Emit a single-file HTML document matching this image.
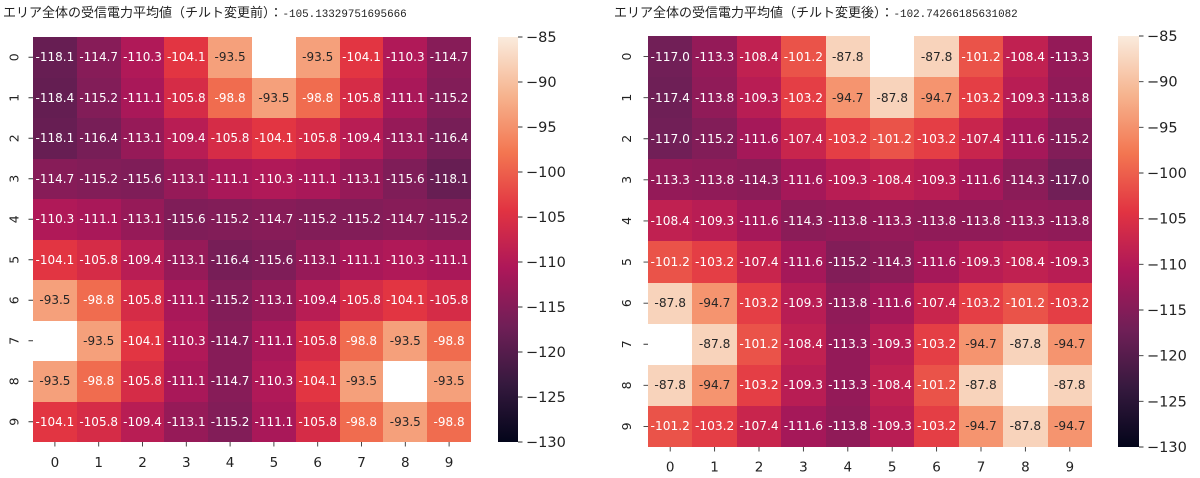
<!DOCTYPE html>
<html><head><meta charset="utf-8"><style>
html,body{margin:0;padding:0;background:#fff;}
body{width:1200px;height:478px;position:relative;overflow:hidden;}
.g{position:absolute;display:grid;grid-template-columns:repeat(10,1fr);grid-template-rows:repeat(10,1fr);font-family:"DejaVu Sans","Liberation Sans",sans-serif;}
.g i{font-style:normal;display:flex;align-items:center;justify-content:center;color:#fff;white-space:nowrap;}
#L{left:33px;top:37px;width:438px;height:405px;font-size:12px;}
#R{left:648px;top:36px;width:444px;height:411px;font-size:12.2px;}
.a{background:#641e52}.b{background:#671e53}.c{background:#771e57}.d{background:#7f1d58}.e{background:#821d58}.f{background:#871c58}.g .g{}
.gg{background:#961a58}.h{background:#a91859}.i2{background:#b01958}.j{background:#b81d54}.k{background:#d52c47}.l{background:#e23542}.m{background:#f06c4f}.n{background:#f5a07b;color:#262626!important}
.z{background:#fff}
.A{background:#6e1f56}.B{background:#711f57}.C{background:#821d58}.D{background:#8b1c58}.E{background:#901b58}.F{background:#941a58}.G{background:#a51859}.H{background:#b81d54}.I{background:#c02151}.J{background:#c8254d}.K{background:#e43e45}.Lr{background:#ea5349}.M{background:#f5946f;color:#262626!important}.N{background:#f8d3bb;color:#262626!important}
.cb{position:absolute;background:linear-gradient(to top,#03051a 0%,#35193e 14.29%,#701f57 28.57%,#ad1759 42.86%,#e13342 57.14%,#f37651 71.43%,#f6b48f 85.71%,#faebdd 100%);}
svg{position:absolute;left:0;top:0;}
</style></head><body>

<div class="g" id="L">
<i class="b">-118.1</i><i class="f">-114.7</i><i class="i2">-110.3</i><i class="l">-104.1</i><i class="n">-93.5</i><i class="z"></i><i class="n">-93.5</i><i class="l">-104.1</i><i class="i2">-110.3</i><i class="f">-114.7</i>
<i class="a">-118.4</i><i class="e">-115.2</i><i class="h">-111.1</i><i class="k">-105.8</i><i class="m">-98.8</i><i class="n">-93.5</i><i class="m">-98.8</i><i class="k">-105.8</i><i class="h">-111.1</i><i class="e">-115.2</i>
<i class="b">-118.1</i><i class="c">-116.4</i><i class="gg">-113.1</i><i class="j">-109.4</i><i class="k">-105.8</i><i class="l">-104.1</i><i class="k">-105.8</i><i class="j">-109.4</i><i class="gg">-113.1</i><i class="c">-116.4</i>
<i class="f">-114.7</i><i class="e">-115.2</i><i class="d">-115.6</i><i class="gg">-113.1</i><i class="h">-111.1</i><i class="i2">-110.3</i><i class="h">-111.1</i><i class="gg">-113.1</i><i class="d">-115.6</i><i class="b">-118.1</i>
<i class="i2">-110.3</i><i class="h">-111.1</i><i class="gg">-113.1</i><i class="d">-115.6</i><i class="e">-115.2</i><i class="f">-114.7</i><i class="e">-115.2</i><i class="e">-115.2</i><i class="f">-114.7</i><i class="e">-115.2</i>
<i class="l">-104.1</i><i class="k">-105.8</i><i class="j">-109.4</i><i class="gg">-113.1</i><i class="c">-116.4</i><i class="d">-115.6</i><i class="gg">-113.1</i><i class="h">-111.1</i><i class="i2">-110.3</i><i class="h">-111.1</i>
<i class="n">-93.5</i><i class="m">-98.8</i><i class="k">-105.8</i><i class="h">-111.1</i><i class="e">-115.2</i><i class="gg">-113.1</i><i class="j">-109.4</i><i class="k">-105.8</i><i class="l">-104.1</i><i class="k">-105.8</i>
<i class="z"></i><i class="n">-93.5</i><i class="l">-104.1</i><i class="i2">-110.3</i><i class="f">-114.7</i><i class="h">-111.1</i><i class="k">-105.8</i><i class="m">-98.8</i><i class="n">-93.5</i><i class="m">-98.8</i>
<i class="n">-93.5</i><i class="m">-98.8</i><i class="k">-105.8</i><i class="h">-111.1</i><i class="f">-114.7</i><i class="i2">-110.3</i><i class="l">-104.1</i><i class="n">-93.5</i><i class="z"></i><i class="n">-93.5</i>
<i class="l">-104.1</i><i class="k">-105.8</i><i class="j">-109.4</i><i class="gg">-113.1</i><i class="e">-115.2</i><i class="h">-111.1</i><i class="k">-105.8</i><i class="m">-98.8</i><i class="n">-93.5</i><i class="m">-98.8</i>
</div>

<div class="g" id="R">
<i class="B">-117.0</i><i class="F">-113.3</i><i class="I">-108.4</i><i class="Lr">-101.2</i><i class="N">-87.8</i><i class="z"></i><i class="N">-87.8</i><i class="Lr">-101.2</i><i class="I">-108.4</i><i class="F">-113.3</i>
<i class="A">-117.4</i><i class="E">-113.8</i><i class="H">-109.3</i><i class="K">-103.2</i><i class="M">-94.7</i><i class="N">-87.8</i><i class="M">-94.7</i><i class="K">-103.2</i><i class="H">-109.3</i><i class="E">-113.8</i>
<i class="B">-117.0</i><i class="C">-115.2</i><i class="G">-111.6</i><i class="J">-107.4</i><i class="K">-103.2</i><i class="Lr">-101.2</i><i class="K">-103.2</i><i class="J">-107.4</i><i class="G">-111.6</i><i class="C">-115.2</i>
<i class="F">-113.3</i><i class="E">-113.8</i><i class="D">-114.3</i><i class="G">-111.6</i><i class="H">-109.3</i><i class="I">-108.4</i><i class="H">-109.3</i><i class="G">-111.6</i><i class="D">-114.3</i><i class="B">-117.0</i>
<i class="I">-108.4</i><i class="H">-109.3</i><i class="G">-111.6</i><i class="D">-114.3</i><i class="E">-113.8</i><i class="F">-113.3</i><i class="E">-113.8</i><i class="E">-113.8</i><i class="F">-113.3</i><i class="E">-113.8</i>
<i class="Lr">-101.2</i><i class="K">-103.2</i><i class="J">-107.4</i><i class="G">-111.6</i><i class="C">-115.2</i><i class="D">-114.3</i><i class="G">-111.6</i><i class="H">-109.3</i><i class="I">-108.4</i><i class="H">-109.3</i>
<i class="N">-87.8</i><i class="M">-94.7</i><i class="K">-103.2</i><i class="H">-109.3</i><i class="E">-113.8</i><i class="G">-111.6</i><i class="J">-107.4</i><i class="K">-103.2</i><i class="Lr">-101.2</i><i class="K">-103.2</i>
<i class="z"></i><i class="N">-87.8</i><i class="Lr">-101.2</i><i class="I">-108.4</i><i class="F">-113.3</i><i class="H">-109.3</i><i class="K">-103.2</i><i class="M">-94.7</i><i class="N">-87.8</i><i class="M">-94.7</i>
<i class="N">-87.8</i><i class="M">-94.7</i><i class="K">-103.2</i><i class="H">-109.3</i><i class="F">-113.3</i><i class="I">-108.4</i><i class="Lr">-101.2</i><i class="N">-87.8</i><i class="z"></i><i class="N">-87.8</i>
<i class="Lr">-101.2</i><i class="K">-103.2</i><i class="J">-107.4</i><i class="G">-111.6</i><i class="E">-113.8</i><i class="H">-109.3</i><i class="K">-103.2</i><i class="M">-94.7</i><i class="N">-87.8</i><i class="M">-94.7</i>
</div>

<div class="cb" style="left:498px;top:37px;width:20px;height:405px;"></div>
<div class="cb" style="left:1118px;top:36px;width:21px;height:411px;"></div>

<svg width="1200" height="478" viewBox="0 0 1200 478">
<!-- titles -->
<text x="3" y="17" font-size="13" fill="#222"><tspan font-family="'Noto Sans CJK JP','Liberation Sans',sans-serif">エリア全体の受信電力平均値（チルト変更前）：</tspan><tspan font-family="'Liberation Mono',monospace" font-size="10.9">-105.13329751695666</tspan></text>
<text x="614" y="17" font-size="13" fill="#222"><tspan font-family="'Noto Sans CJK JP','Liberation Sans',sans-serif">エリア全体の受信電力平均値（チルト変更後）：</tspan><tspan font-family="'Liberation Mono',monospace" font-size="10.9">-102.74266185631082</tspan></text>

<g stroke="#333" stroke-width="0.9">
<!-- left y ticks -->
<path d="M28.5 57.25H33M28.5 97.75H33M28.5 138.25H33M28.5 178.75H33M28.5 219.25H33M28.5 259.75H33M28.5 300.25H33M28.5 340.75H33M28.5 381.25H33M28.5 421.75H33"/>
<!-- left x ticks -->
<path d="M54.9 442V446.5M98.7 442V446.5M142.5 442V446.5M186.3 442V446.5M230.1 442V446.5M273.9 442V446.5M317.7 442V446.5M361.5 442V446.5M405.3 442V446.5M449.1 442V446.5"/>
<!-- right y ticks -->
<path d="M643.5 56.55H648M643.5 97.65H648M643.5 138.75H648M643.5 179.85H648M643.5 220.95H648M643.5 262.05H648M643.5 303.15H648M643.5 344.25H648M643.5 385.35H648M643.5 426.45H648"/>
<!-- right x ticks -->
<path d="M670.2 447V451.5M714.6 447V451.5M759 447V451.5M803.4 447V451.5M847.8 447V451.5M892.2 447V451.5M936.6 447V451.5M981 447V451.5M1025.4 447V451.5M1069.8 447V451.5"/>
<!-- left colorbar ticks -->
<path d="M518 37H522.5M518 82H522.5M518 127H522.5M518 172H522.5M518 217H522.5M518 262H522.5M518 307H522.5M518 352H522.5M518 397H522.5M518 442H522.5"/>
<!-- right colorbar ticks -->
<path d="M1139 36H1143.5M1139 81.67H1143.5M1139 127.33H1143.5M1139 173H1143.5M1139 218.67H1143.5M1139 264.33H1143.5M1139 310H1143.5M1139 355.67H1143.5M1139 401.33H1143.5M1139 447H1143.5"/>
</g>

<g font-family="'DejaVu Sans','Liberation Sans',sans-serif" font-size="12.5" fill="#222" text-anchor="middle">
<text transform="translate(18.5,57.25) rotate(-90)">0</text>
<text transform="translate(18.5,97.75) rotate(-90)">1</text>
<text transform="translate(18.5,138.25) rotate(-90)">2</text>
<text transform="translate(18.5,178.75) rotate(-90)">3</text>
<text transform="translate(18.5,219.25) rotate(-90)">4</text>
<text transform="translate(18.5,259.75) rotate(-90)">5</text>
<text transform="translate(18.5,300.25) rotate(-90)">6</text>
<text transform="translate(18.5,340.75) rotate(-90)">7</text>
<text transform="translate(18.5,381.25) rotate(-90)">8</text>
<text transform="translate(18.5,421.75) rotate(-90)">9</text>

<text transform="translate(631,56.55) rotate(-90)">0</text>
<text transform="translate(631,97.65) rotate(-90)">1</text>
<text transform="translate(631,138.75) rotate(-90)">2</text>
<text transform="translate(631,179.85) rotate(-90)">3</text>
<text transform="translate(631,220.95) rotate(-90)">4</text>
<text transform="translate(631,262.05) rotate(-90)">5</text>
<text transform="translate(631,303.15) rotate(-90)">6</text>
<text transform="translate(631,344.25) rotate(-90)">7</text>
<text transform="translate(631,385.35) rotate(-90)">8</text>
<text transform="translate(631,426.45) rotate(-90)">9</text>
</g>

<g font-family="'DejaVu Sans','Liberation Sans',sans-serif" font-size="13.5" fill="#222" text-anchor="middle">
<text x="54.9" y="467">0</text><text x="98.7" y="467">1</text><text x="142.5" y="467">2</text><text x="186.3" y="467">3</text><text x="230.1" y="467">4</text><text x="273.9" y="467">5</text><text x="317.7" y="467">6</text><text x="361.5" y="467">7</text><text x="405.3" y="467">8</text><text x="449.1" y="467">9</text>
<text x="670.2" y="471.5">0</text><text x="714.6" y="471.5">1</text><text x="759" y="471.5">2</text><text x="803.4" y="471.5">3</text><text x="847.8" y="471.5">4</text><text x="892.2" y="471.5">5</text><text x="936.6" y="471.5">6</text><text x="981" y="471.5">7</text><text x="1025.4" y="471.5">8</text><text x="1069.8" y="471.5">9</text>
</g>

<g font-family="'DejaVu Sans','Liberation Sans',sans-serif" font-size="14.5" fill="#222">
<text x="526" y="42">−85</text>
<text x="526" y="87">−90</text>
<text x="526" y="132">−95</text>
<text x="526" y="177">−100</text>
<text x="526" y="222">−105</text>
<text x="526" y="267">−110</text>
<text x="526" y="312">−115</text>
<text x="526" y="357">−120</text>
<text x="526" y="402">−125</text>
<text x="526" y="447">−130</text>

<text x="1147" y="41">−85</text>
<text x="1147" y="86.7">−90</text>
<text x="1147" y="132.3">−95</text>
<text x="1147" y="178">−100</text>
<text x="1147" y="223.7">−105</text>
<text x="1147" y="269.3">−110</text>
<text x="1147" y="315">−115</text>
<text x="1147" y="360.7">−120</text>
<text x="1147" y="406.3">−125</text>
<text x="1147" y="452">−130</text>
</g>
</svg>
</body></html>
